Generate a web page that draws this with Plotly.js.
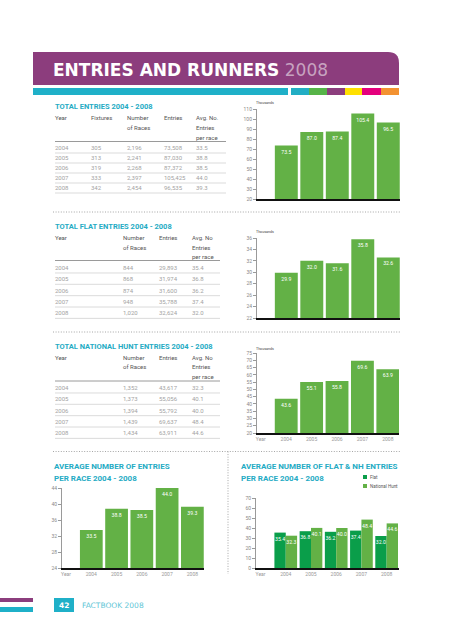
<!DOCTYPE html>
<html><head><meta charset="utf-8">
<script src="https://cdn.plot.ly/plotly-3.0.1.min.js"></script>
<style>html,body{margin:0;padding:0;background:#fff;overflow:hidden}#chart{width:453px;height:640px}</style>
</head><body><div id="chart"></div>
<script>
// ---------- DATA ----------
const years = ['2004','2005','2006','2007','2008'];
const yearAxisLabel = 'Year';
const pageTitle = 'ENTRIES AND RUNNERS';
const pageYear = '2008';
const footerPage = '42';
const footerText = 'FACTBOOK 2008';

const table1Title = 'TOTAL ENTRIES 2004 - 2008';
const table1Headers = [['Year'],['Fixtures'],['Number','of Races'],['Entries'],['Avg. No.','Entries','per race']];
const totalFixtures = ['305','313','319','333','342'];
const totalRaces = ['2,196','2,241','2,268','2,397','2,454'];
const totalEntries = ['73,508','87,030','87,372','105,425','96,535'];
const totalAvg = ['33.5','38.8','38.5','44.0','39.3'];

const table2Title = 'TOTAL FLAT ENTRIES 2004 - 2008';
const table2Headers = [['Year'],['Number','of Races'],['Entries'],['Avg. No','Entries','per race']];
const flatRaces = ['844','868','874','948','1,020'];
const flatEntries = ['29,893','31,974','31,600','35,788','32,624'];
const flatAvg = ['35.4','36.8','36.2','37.4','32.0'];

const table3Title = 'TOTAL NATIONAL HUNT ENTRIES 2004 - 2008';
const table3Headers = [['Year'],['Number','of Races'],['Entries'],['Avg. No','Entries','per race']];
const nhRaces = ['1,352','1,373','1,394','1,439','1,434'];
const nhEntries = ['43,617','55,056','55,792','69,637','63,911'];
const nhAvg = ['32.3','40.1','40.0','48.4','44.6'];

const totalEntriesK = [73.5, 87.0, 87.4, 105.4, 96.5];
const flatEntriesK = [29.9, 32.0, 31.6, 35.8, 32.6];
const nhEntriesK = [43.6, 55.1, 55.8, 69.6, 63.9];
const avgEntries = [33.5, 38.8, 38.5, 44.0, 39.3];
const avgFlat = [35.4, 36.8, 36.2, 37.4, 32.0];
const avgNH = [32.3, 40.1, 40.0, 48.4, 44.6];

const unitsLabel = 'Thousands';
const chart4Title = ['AVERAGE NUMBER OF ENTRIES','PER RACE 2004 - 2008'];
const chart5Title = ['AVERAGE NUMBER OF FLAT &amp; NH ENTRIES','PER RACE 2004 - 2008'];
const seriesNames = ['Flat','National Hunt'];

// ---------- STYLE ----------
const W = 453, H = 640;
const PURPLE = '#8c3d7d', CYAN = '#1fb0c8', TITLE = '#25abc4';
const GREEN = '#63b146', DARKGREEN = '#0a9e4a';
const FONT = 'Roboto, "Liberation Sans", sans-serif';
const DOTS = '1px,1.6px';
const fx = x => x / W, fy = y => 1 - y / H;
const shapes = [], annotations = [];

function rect(x0, y0, x1, y1, color) {
  shapes.push({type:'rect', xref:'paper', yref:'paper', x0:fx(x0), x1:fx(x1), y0:fy(y1), y1:fy(y0),
    fillcolor:color, line:{width:0}, layer:'below'});
}
function hline(x0, x1, y, color, width, dash) {
  shapes.push({type:'line', xref:'paper', yref:'paper', x0:fx(x0), x1:fx(x1), y0:fy(y), y1:fy(y),
    line:{color:color, width:width, dash:dash || 'solid'}});
}
function vline(x, y0, y1, color, width, dash) {
  shapes.push({type:'line', xref:'paper', yref:'paper', x0:fx(x), x1:fx(x), y0:fy(y0), y1:fy(y1),
    line:{color:color, width:width, dash:dash || 'solid'}});
}
function txt(x, y, t, size, color, opts) {
  opts = opts || {};
  annotations.push({xref:'paper', yref:'paper', x:fx(x), y:fy(y), text:t, showarrow:false,
    xanchor:opts.xanchor || 'left', yanchor:'middle', borderpad:0, borderwidth:0,
    font:{family:opts.family || FONT, size:size, color:color}});
}

// header band with rounded top-right corner
(function(){
  const x0 = 33, x1 = 399, yt = 52, yb = 85, r = 11;
  shapes.push({type:'path', xref:'paper', yref:'paper', fillcolor:PURPLE, line:{width:0}, layer:'below',
    path:`M ${fx(x0)},${fy(yb)} L ${fx(x0)},${fy(yt)} L ${fx(x1-r)},${fy(yt)} Q ${fx(x1)},${fy(yt)} ${fx(x1)},${fy(yt+r)} L ${fx(x1)},${fy(yb)} Z`});
})();
txt(53, 70.5, '<b>' + pageTitle + '</b> <span style="color:#c7a3c0">' + pageYear + '</span>', 17, '#ffffff',
  {family:'"DejaVu Sans", sans-serif'});
rect(33, 88, 288, 95, CYAN);
[['#22aec4',291,309],['#56b448',309,327],['#8c3d7d',327,345],['#ffe000',345,362],['#e4007c',362,381],['#f39231',381,399]]
  .forEach(s => rect(s[1], 88, s[2], 95, s[0]));

// tables
function table(cfg) {
  txt(55, cfg.titleY, '<b>' + cfg.title + '</b>', 7.5, TITLE);
  cfg.cols.forEach(c => {
    c.header.forEach((h, i) => txt(c.x, cfg.headY + i * cfg.headStep, h, 6, '#555'));
    c.values.forEach((v, i) => txt(c.x, cfg.rowY + i * cfg.rowStep, v, 6, '#a3a3a3'));
  });
  hline(55, cfg.x1, cfg.lineY, '#9a9a9a', 1);
  years.forEach((_, i) => hline(55, cfg.x1, cfg.rowY + i * cfg.rowStep + cfg.rowStep / 2, '#d2d2d2', 0.8));
}
table({title:table1Title, titleY:106, headY:118, headStep:9.5, lineY:141.5, rowY:148, rowStep:10, x1:226,
  cols:[{x:55, header:table1Headers[0], values:years},
        {x:91, header:table1Headers[1], values:totalFixtures},
        {x:127, header:table1Headers[2], values:totalRaces},
        {x:164, header:table1Headers[3], values:totalEntries},
        {x:196, header:table1Headers[4], values:totalAvg}]});
table({title:table2Title, titleY:226, headY:238, headStep:9.2, lineY:260.5, rowY:267.3, rowStep:11.35, x1:220,
  cols:[{x:55, header:table2Headers[0], values:years},
        {x:123, header:table2Headers[1], values:flatRaces},
        {x:159, header:table2Headers[2], values:flatEntries},
        {x:192, header:table2Headers[3], values:flatAvg}]});
table({title:table3Title, titleY:346, headY:357.5, headStep:9.3, lineY:381, rowY:387.3, rowStep:11.35, x1:220,
  cols:[{x:55, header:table3Headers[0], values:years},
        {x:123, header:table3Headers[1], values:nhRaces},
        {x:159, header:table3Headers[2], values:nhEntries},
        {x:192, header:table3Headers[3], values:nhAvg}]});

// dotted separators
hline(53, 400, 212, '#9c9c9c', 0.9, DOTS);
hline(53, 400, 332, '#9c9c9c', 0.9, DOTS);
hline(53, 400, 451.5, '#9c9c9c', 0.9, DOTS);
vline(228, 451.5, 574, '#9c9c9c', 0.9, DOTS);

// units labels
txt(256, 103, unitsLabel, 3.6, '#444');
txt(256, 232, unitsLabel, 3.6, '#444');
txt(256, 348.5, unitsLabel, 3.6, '#444');

// bottom titles
txt(54, 466, '<b>' + chart4Title[0] + '</b>', 8, TITLE);
txt(54, 478.5, '<b>' + chart4Title[1] + '</b>', 8, TITLE);
txt(241, 466, '<b>' + chart5Title[0] + '</b>', 8, TITLE);
txt(241, 478.5, '<b>' + chart5Title[1] + '</b>', 8, TITLE);

// legend for chart 5
rect(363, 475, 367, 479, DARKGREEN);
rect(363, 484, 367, 488, GREEN);
txt(370, 477, seriesNames[0], 4.5, '#555');
txt(370, 486, seriesNames[1], 4.5, '#555');

// footer
rect(0, 598, 33, 602, PURPLE);
rect(0, 607, 33, 612, CYAN);
rect(54, 598, 74, 612, CYAN);
txt(64, 605, '<b>' + footerPage + '</b>', 7.5, '#ffffff', {xanchor:'center', family:'"DejaVu Sans", sans-serif'});
txt(82, 605, footerText, 7.5, '#5fc6d6', {family:'"DejaVu Sans", sans-serif'});

// ---------- CHARTS ----------
function dom(x0, x1, y0, y1) { return {x:[fx(x0), fx(x1)], y:[fy(y1), fy(y0)]}; }
const boxes = [dom(257, 400, 109, 199), dom(257, 400, 238, 318), dom(257, 399, 353, 433),
               dom(62, 204, 488, 568), dom(256, 399, 498, 568)];
const yRanges = [[20,110],[22,36],[20,75],[24,44],[0,70]];
const yDticks = [10, 2, 5, 4, 10];
const xRanges = [[-0.15,5.46],[-0.15,5.46],[-0.15,5.44],[-0.16,5.46],[-0.18,5.49]];
const showX = [false, false, true, true, true];

const layout = {width:W, height:H, margin:{l:0,r:0,t:0,b:0}, paper_bgcolor:'#fff', plot_bgcolor:'rgba(0,0,0,0)',
  showlegend:false, barmode:'group', bargap:0.1, bargroupgap:0, shapes:shapes, annotations:annotations,
  font:{family:FONT}};
boxes.forEach((b, i) => {
  const n = i === 0 ? '' : String(i + 1);
  layout['xaxis' + n] = {domain:b.x, range:xRanges[i], type:'category', categoryorder:'array',
    categoryarray:[yearAxisLabel].concat(years), showline:true, linecolor:'#111', linewidth:2.2, ticks:'',
    showticklabels:showX[i], tickfont:{size:5, color:'#999', family:FONT}, showgrid:false, zeroline:false,
    anchor:'y' + n, fixedrange:true};
  layout['yaxis' + n] = {domain:b.y, range:yRanges[i], dtick:yDticks[i], tick0:yRanges[i][0], showline:true,
    linecolor:'#9a9a9a', linewidth:1, ticks:'outside', ticklen:3, tickwidth:1, tickcolor:'#9a9a9a',
    tickfont:{size:5, color:'#888', family:FONT}, showgrid:false, zeroline:false, anchor:'x' + n, fixedrange:true};
});

function barTrace(vals, axisIdx, color, name) {
  const n = axisIdx === 0 ? '' : String(axisIdx + 1);
  return {type:'bar', x:years, y:vals, name:name, xaxis:'x' + n, yaxis:'y' + n,
    marker:{color:color, line:{width:0}}, text:vals.map(v => v.toFixed(1)), textposition:'inside',
    insidetextanchor:'end', textangle:0, constraintext:'none',
    textfont:{size:5.2, color:'#ffffff', family:FONT}, hoverinfo:'skip', cliponaxis:true};
}
const data = [
  barTrace(totalEntriesK, 0, GREEN),
  barTrace(flatEntriesK, 1, GREEN),
  barTrace(nhEntriesK, 2, GREEN),
  barTrace(avgEntries, 3, GREEN),
  barTrace(avgFlat, 4, DARKGREEN, seriesNames[0]),
  barTrace(avgNH, 4, GREEN, seriesNames[1])
];
Plotly.newPlot('chart', data, layout, {staticPlot:true, displayModeBar:false});
</script>
</body></html>
